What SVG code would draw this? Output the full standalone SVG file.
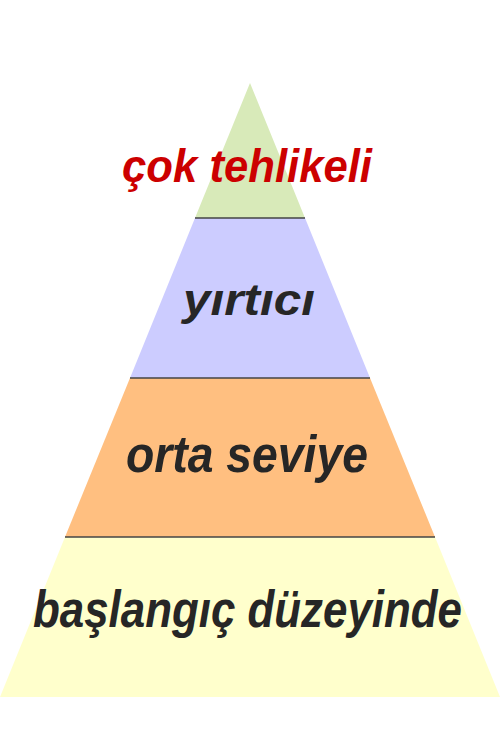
<svg xmlns="http://www.w3.org/2000/svg" width="500" height="750" viewBox="0 0 500 750">
<style>
.lbl{font-family:"Liberation Sans","DejaVu Sans",sans-serif;font-style:italic;font-weight:bold;text-anchor:start}
.dark{fill:#262626}
.div{stroke:#444;stroke-width:1.5}
</style>
<rect width="500" height="750" fill="#fff"/>
<g id="layer-top">
<polygon points="250,83 305,218 195,218" fill="#d8eab9"/>
<text class="lbl" x="122" y="182" font-size="46" fill="#cc0000" textLength="250" lengthAdjust="spacingAndGlyphs">çok tehlikeli</text>
</g>
<g id="layer-predator">
<polygon points="195,218 305,218 370,378 130,378" fill="#ccccff"/>
<text class="lbl dark" x="183" y="315" font-size="44" textLength="132" lengthAdjust="spacingAndGlyphs">yırtıcı</text>
</g>
<g id="layer-middle">
<polygon points="130,378 370,378 435,537 65,537" fill="#ffbf80"/>
<text class="lbl dark" x="126" y="472" font-size="52" textLength="242" lengthAdjust="spacingAndGlyphs">orta seviye</text>
</g>
<g id="layer-beginner">
<polygon points="65,537 435,537 500,697 0,697" fill="#ffffcc"/>
<text class="lbl dark" x="33" y="627" font-size="52" textLength="429" lengthAdjust="spacingAndGlyphs">başlangıç düzeyinde</text>
</g>
<g id="connectors">
<line class="div" x1="195" y1="218" x2="305" y2="218"/>
<line class="div" x1="130" y1="378" x2="370" y2="378"/>
<line class="div" x1="65" y1="537" x2="435" y2="537"/>
</g>
</svg>
